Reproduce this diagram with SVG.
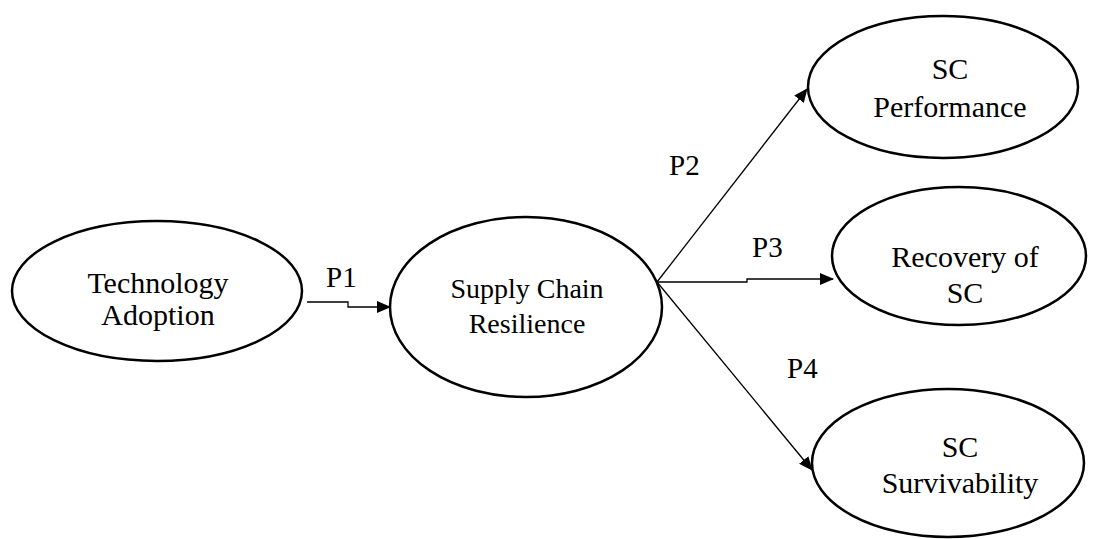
<svg xmlns="http://www.w3.org/2000/svg" width="1102" height="539" viewBox="0 0 1102 539">
<style>
.node ellipse{fill:#fff;stroke:#000;stroke-width:2.5}
.node text{font-family:"Liberation Serif","Times New Roman",serif;font-size:30px;fill:#000;text-anchor:middle}
.lbl{font-family:"Liberation Serif","Times New Roman",serif;font-size:29px;fill:#000}
.conn{fill:none;stroke:#000;stroke-width:1.3}
</style>
<defs>
<marker id="ah" markerWidth="14" markerHeight="12" refX="13" refY="6" orient="auto" markerUnits="userSpaceOnUse">
<path d="M0,0 L14,6 L0,12 Z" fill="#000"/>
</marker>
</defs>
<rect width="1102" height="539" fill="#fff"/>
<g id="connectors">
<polyline class="conn" points="307,302 348,302 348,307 390,307" marker-end="url(#ah)"/>
<line class="conn" x1="657" y1="282" x2="807" y2="89" marker-end="url(#ah)"/>
<polyline class="conn" points="657,282 747,282 747,279 833,279" marker-end="url(#ah)"/>
<line class="conn" x1="657" y1="282" x2="812" y2="470" marker-end="url(#ah)"/>
<text class="lbl" x="326" y="287">P1</text>
<text class="lbl" x="669" y="175">P2</text>
<text class="lbl" x="752" y="257">P3</text>
<text class="lbl" x="787" y="378">P4</text>
</g>
<g id="technology-adoption" class="node">
<ellipse cx="157" cy="291" rx="145" ry="70"/>
<text x="158" y="293">Technology</text>
<text x="158" y="325">Adoption</text>
</g>
<g id="supply-chain-resilience" class="node">
<ellipse cx="526" cy="307" rx="136" ry="90"/>
<text x="527" y="298" style="font-size:28px">Supply Chain</text>
<text x="527" y="333" style="font-size:28px">Resilience</text>
</g>
<g id="sc-performance" class="node">
<ellipse cx="943" cy="87" rx="135" ry="71"/>
<text x="950" y="79">SC</text>
<text x="950" y="117">Performance</text>
</g>
<g id="recovery-of-sc" class="node">
<ellipse cx="959" cy="256" rx="127" ry="69"/>
<text x="965" y="267">Recovery of</text>
<text x="965" y="303">SC</text>
</g>
<g id="sc-survivability" class="node">
<ellipse cx="948" cy="463" rx="136" ry="74"/>
<text x="960" y="457">SC</text>
<text x="960" y="493">Survivability</text>
</g>
</svg>
